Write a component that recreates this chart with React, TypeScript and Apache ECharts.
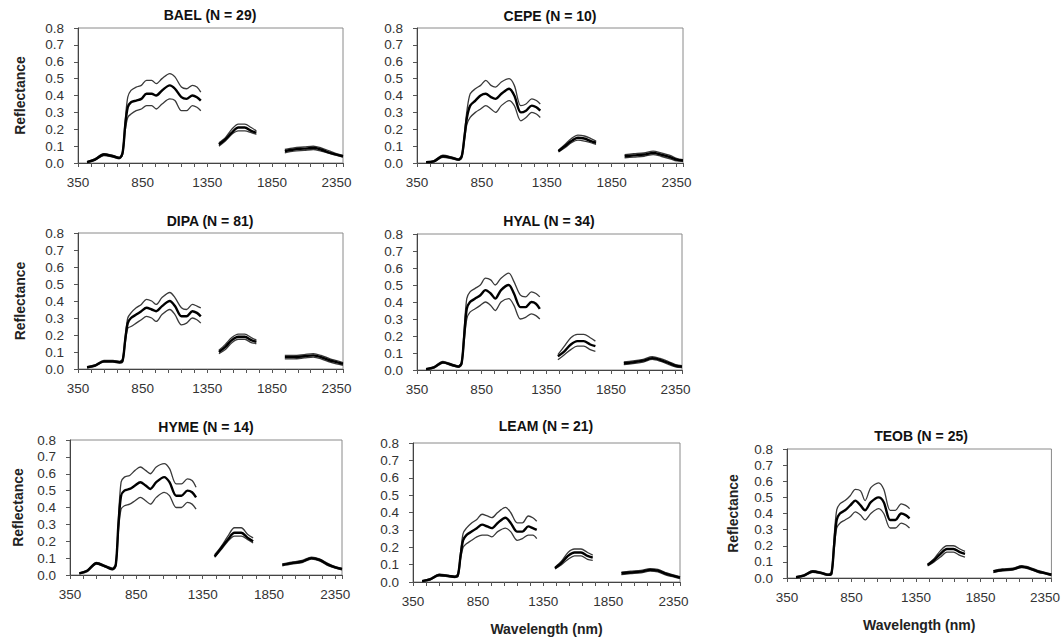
import { useEffect, useRef } from "react";
import * as echarts from "echarts";

// Wavelength grid (nm); null values mark the water-absorption gaps
const wavelengths = [
  420, 480, 550, 620, 670, 695, 715, 735, 760, 800, 840, 880, 920, 955, 1000, 1060, 1100, 1150, 1190, 1235, 1270, 1300,
  1370,
  1440, 1490, 1540, 1590, 1640, 1690, 1730,
  1840,
  1950, 2020, 2100, 2170, 2230, 2300, 2350, 2400,
];

const titles = ["BAEL (N = 29)", "CEPE (N = 10)", "DIPA (N = 81)", "HYAL (N = 34)", "HYME (N = 14)", "LEAM (N = 21)", "TEOB (N = 25)"];

const baelMean = [0.005, 0.02, 0.05, 0.04, 0.03, 0.06, 0.22, 0.33, 0.36, 0.37, 0.38, 0.41, 0.41, 0.40, 0.43, 0.46, 0.44, 0.39, 0.38, 0.40, 0.39, 0.37, null, 0.11, 0.14, 0.18, 0.21, 0.21, 0.19, 0.18, null, 0.07, 0.08, 0.085, 0.09, 0.08, 0.06, 0.05, 0.04];
const baelUpper = [0.008, 0.024, 0.056, 0.045, 0.034, 0.07, 0.25, 0.39, 0.43, 0.45, 0.46, 0.49, 0.49, 0.47, 0.50, 0.53, 0.51, 0.45, 0.44, 0.46, 0.45, 0.42, null, 0.12, 0.15, 0.20, 0.23, 0.23, 0.21, 0.19, null, 0.08, 0.09, 0.095, 0.10, 0.09, 0.07, 0.055, 0.045];
const baelLower = [0.002, 0.016, 0.044, 0.035, 0.026, 0.05, 0.19, 0.27, 0.29, 0.31, 0.32, 0.34, 0.34, 0.32, 0.35, 0.38, 0.37, 0.31, 0.31, 0.34, 0.33, 0.31, null, 0.10, 0.13, 0.17, 0.19, 0.19, 0.18, 0.17, null, 0.06, 0.07, 0.075, 0.08, 0.07, 0.055, 0.045, 0.035];

const cepeMean = [0.005, 0.01, 0.04, 0.03, 0.02, 0.04, 0.15, 0.27, 0.34, 0.37, 0.40, 0.41, 0.39, 0.38, 0.41, 0.44, 0.40, 0.30, 0.31, 0.34, 0.33, 0.31, null, 0.07, 0.10, 0.13, 0.15, 0.145, 0.13, 0.12, null, 0.04, 0.045, 0.05, 0.06, 0.05, 0.035, 0.02, 0.015];
const cepeUpper = [0.008, 0.014, 0.046, 0.035, 0.024, 0.05, 0.17, 0.31, 0.41, 0.44, 0.46, 0.49, 0.46, 0.45, 0.48, 0.50, 0.46, 0.34, 0.35, 0.38, 0.37, 0.35, null, 0.075, 0.11, 0.145, 0.165, 0.16, 0.145, 0.13, null, 0.05, 0.055, 0.06, 0.07, 0.06, 0.045, 0.028, 0.02];
const cepeLower = [0.002, 0.006, 0.034, 0.025, 0.016, 0.03, 0.13, 0.23, 0.27, 0.30, 0.32, 0.34, 0.32, 0.30, 0.34, 0.37, 0.34, 0.25, 0.27, 0.30, 0.29, 0.27, null, 0.065, 0.09, 0.12, 0.135, 0.13, 0.12, 0.11, null, 0.03, 0.035, 0.04, 0.05, 0.04, 0.025, 0.012, 0.01];

const dipaMean = [0.01, 0.02, 0.045, 0.045, 0.04, 0.05, 0.17, 0.27, 0.30, 0.32, 0.34, 0.36, 0.35, 0.34, 0.37, 0.40, 0.37, 0.31, 0.31, 0.34, 0.33, 0.31, null, 0.10, 0.13, 0.17, 0.19, 0.19, 0.17, 0.16, null, 0.07, 0.07, 0.075, 0.08, 0.07, 0.05, 0.04, 0.03];
const dipaUpper = [0.013, 0.024, 0.05, 0.05, 0.045, 0.06, 0.19, 0.30, 0.33, 0.36, 0.38, 0.41, 0.40, 0.38, 0.42, 0.45, 0.42, 0.36, 0.35, 0.38, 0.37, 0.36, null, 0.11, 0.145, 0.185, 0.205, 0.205, 0.185, 0.17, null, 0.08, 0.08, 0.085, 0.09, 0.08, 0.06, 0.05, 0.038];
const dipaLower = [0.007, 0.016, 0.04, 0.04, 0.035, 0.04, 0.15, 0.24, 0.25, 0.27, 0.29, 0.31, 0.30, 0.28, 0.32, 0.35, 0.32, 0.26, 0.27, 0.30, 0.29, 0.27, null, 0.09, 0.115, 0.155, 0.175, 0.175, 0.155, 0.15, null, 0.06, 0.06, 0.065, 0.07, 0.06, 0.04, 0.03, 0.022];

const hyalMean = [0.005, 0.015, 0.045, 0.03, 0.02, 0.04, 0.20, 0.36, 0.40, 0.42, 0.44, 0.47, 0.45, 0.42, 0.47, 0.50, 0.45, 0.37, 0.37, 0.40, 0.39, 0.36, null, 0.08, 0.11, 0.15, 0.17, 0.17, 0.15, 0.14, null, 0.04, 0.045, 0.055, 0.07, 0.06, 0.04, 0.025, 0.02];
const hyalUpper = [0.008, 0.019, 0.05, 0.035, 0.024, 0.05, 0.24, 0.42, 0.46, 0.48, 0.50, 0.54, 0.53, 0.50, 0.54, 0.57, 0.52, 0.44, 0.43, 0.46, 0.45, 0.43, null, 0.09, 0.14, 0.19, 0.21, 0.21, 0.19, 0.17, null, 0.048, 0.053, 0.063, 0.078, 0.068, 0.048, 0.032, 0.026];
const hyalLower = [0.002, 0.011, 0.04, 0.025, 0.016, 0.03, 0.17, 0.30, 0.34, 0.36, 0.38, 0.40, 0.38, 0.35, 0.40, 0.42, 0.38, 0.30, 0.31, 0.33, 0.32, 0.30, null, 0.06, 0.09, 0.12, 0.14, 0.14, 0.12, 0.11, null, 0.032, 0.037, 0.047, 0.062, 0.052, 0.032, 0.018, 0.014];

const hymeMean = [0.01, 0.025, 0.07, 0.05, 0.035, 0.06, 0.30, 0.47, 0.50, 0.51, 0.53, 0.55, 0.53, 0.51, 0.55, 0.58, 0.55, 0.47, 0.47, 0.50, 0.49, 0.46, null, 0.11, 0.16, 0.21, 0.25, 0.25, 0.22, 0.20, null, 0.06, 0.07, 0.08, 0.10, 0.09, 0.06, 0.045, 0.035];
const hymeUpper = [0.013, 0.03, 0.075, 0.055, 0.04, 0.07, 0.33, 0.55, 0.58, 0.59, 0.62, 0.64, 0.62, 0.60, 0.64, 0.66, 0.63, 0.54, 0.54, 0.57, 0.56, 0.52, null, 0.12, 0.17, 0.23, 0.28, 0.28, 0.24, 0.22, null, 0.066, 0.076, 0.086, 0.106, 0.096, 0.066, 0.05, 0.04];
const hymeLower = [0.007, 0.02, 0.065, 0.045, 0.03, 0.05, 0.26, 0.39, 0.41, 0.42, 0.44, 0.46, 0.44, 0.42, 0.46, 0.49, 0.47, 0.40, 0.40, 0.43, 0.42, 0.39, null, 0.105, 0.15, 0.20, 0.23, 0.23, 0.21, 0.19, null, 0.054, 0.064, 0.074, 0.094, 0.084, 0.054, 0.04, 0.03];

const leamMean = [0.005, 0.015, 0.04, 0.035, 0.03, 0.04, 0.15, 0.24, 0.27, 0.29, 0.31, 0.33, 0.32, 0.31, 0.34, 0.37, 0.34, 0.29, 0.29, 0.32, 0.31, 0.30, null, 0.08, 0.11, 0.15, 0.17, 0.17, 0.15, 0.14, null, 0.05, 0.055, 0.06, 0.07, 0.065, 0.045, 0.035, 0.025];
const leamUpper = [0.008, 0.019, 0.045, 0.04, 0.034, 0.05, 0.17, 0.28, 0.31, 0.34, 0.36, 0.39, 0.38, 0.37, 0.40, 0.43, 0.40, 0.34, 0.34, 0.38, 0.37, 0.35, null, 0.085, 0.12, 0.17, 0.19, 0.19, 0.17, 0.155, null, 0.057, 0.062, 0.067, 0.077, 0.072, 0.052, 0.041, 0.031];
const leamLower = [0.002, 0.011, 0.035, 0.03, 0.026, 0.03, 0.13, 0.20, 0.22, 0.24, 0.26, 0.27, 0.27, 0.26, 0.29, 0.31, 0.29, 0.24, 0.25, 0.27, 0.27, 0.25, null, 0.075, 0.10, 0.13, 0.15, 0.15, 0.13, 0.125, null, 0.043, 0.048, 0.053, 0.063, 0.058, 0.038, 0.029, 0.019];

const teobMean = [0.005, 0.015, 0.04, 0.03, 0.02, 0.03, 0.20, 0.36, 0.40, 0.42, 0.45, 0.48, 0.45, 0.42, 0.47, 0.50, 0.47, 0.36, 0.36, 0.40, 0.39, 0.37, null, 0.08, 0.11, 0.15, 0.18, 0.18, 0.16, 0.15, null, 0.04, 0.05, 0.055, 0.07, 0.06, 0.04, 0.03, 0.02];
const teobUpper = [0.008, 0.019, 0.045, 0.035, 0.024, 0.04, 0.25, 0.42, 0.46, 0.48, 0.51, 0.55, 0.54, 0.48, 0.56, 0.59, 0.55, 0.42, 0.42, 0.46, 0.45, 0.43, null, 0.085, 0.12, 0.17, 0.20, 0.20, 0.18, 0.165, null, 0.046, 0.056, 0.061, 0.076, 0.066, 0.046, 0.035, 0.025];
const teobLower = [0.002, 0.011, 0.035, 0.025, 0.016, 0.02, 0.17, 0.31, 0.34, 0.36, 0.38, 0.41, 0.39, 0.36, 0.40, 0.43, 0.40, 0.31, 0.31, 0.34, 0.33, 0.31, null, 0.075, 0.10, 0.13, 0.16, 0.16, 0.14, 0.13, null, 0.034, 0.044, 0.049, 0.064, 0.054, 0.034, 0.025, 0.015];

const panelData = [
  [baelMean, baelUpper, baelLower],
  [cepeMean, cepeUpper, cepeLower],
  [dipaMean, dipaUpper, dipaLower],
  [hyalMean, hyalUpper, hyalLower],
  [hymeMean, hymeUpper, hymeLower],
  [leamMean, leamUpper, leamLower],
  [teobMean, teobUpper, teobLower],
];

const yTickValues = [0, 0.1, 0.2, 0.3, 0.4, 0.5, 0.6, 0.7, 0.8];
const xLabelValues = [350, 850, 1350, 1850, 2350];

// layout (pixels)
const layout = [
  { left: 78, top: 28, width: 265, height: 135, titleX: 210, titleY: 8, yGap: 51, xName: false },
  { left: 417, top: 28, width: 266, height: 135, titleX: 550, titleY: 9, yGap: 0, xName: false },
  { left: 78, top: 233, width: 265, height: 136, titleX: 210, titleY: 214, yGap: 51, xName: false },
  { left: 417, top: 234, width: 265, height: 136, titleX: 549, titleY: 214, yGap: 0, xName: false },
  { left: 70, top: 440, width: 272, height: 135, titleX: 206, titleY: 420, yGap: 45, xName: false },
  { left: 413, top: 443, width: 267, height: 139, titleX: 546, titleY: 419, yGap: 0, xName: true },
  { left: 787, top: 449, width: 266, height: 129, titleX: 921, titleY: 429, yGap: 47, xName: true },
];

const FONT = "'Liberation Sans', Arial, sans-serif";

export default function App() {
  const ref = useRef<HTMLDivElement>(null);
  useEffect(() => {
    const chart = echarts.init(ref.current!, undefined, { renderer: "svg" });
    const grids: any[] = [];
    const xAxes: any[] = [];
    const yAxes: any[] = [];
    const titleArr: any[] = [];
    const series: any[] = [];
    layout.forEach((l, i) => {
      grids.push({
        left: l.left, top: l.top, width: l.width, height: l.height,
        show: true, borderColor: "#8a8a8a", borderWidth: 1, backgroundColor: "transparent",
      });
      titleArr.push({
        text: titles[i], left: l.titleX, top: l.titleY, textAlign: "center", padding: 0,
        textStyle: { fontFamily: FONT, fontSize: 14, fontWeight: "bold", color: "#111" },
      });
      xAxes.push({
        gridIndex: i, type: "value", min: 350, max: 2400, interval: 100,
        name: l.xName ? "Wavelength (nm)" : "", nameLocation: "middle", nameGap: 40,
        nameTextStyle: { fontFamily: FONT, fontSize: 14, fontWeight: "bold", color: "#222" },
        axisLine: { show: true, onZero: false, lineStyle: { color: "#444", width: 1 } },
        axisTick: { show: true, length: 4, lineStyle: { color: "#555" } },
        axisLabel: {
          fontFamily: FONT, fontSize: 13.5, color: "#333", margin: 12,
          formatter: (v: number) => (xLabelValues.includes(Math.round(v)) ? String(Math.round(v)) : ""),
        },
        splitLine: { show: false },
      });
      yAxes.push({
        gridIndex: i, type: "value", min: 0, max: 0.8, interval: 0.1,
        name: l.yGap ? "Reflectance" : "", nameLocation: "middle", nameGap: l.yGap,
        nameTextStyle: { fontFamily: FONT, fontSize: 14, fontWeight: "bold", color: "#222" },
        axisLine: { show: true, lineStyle: { color: "#444", width: 1 } },
        axisTick: { show: true, length: 4, lineStyle: { color: "#555" } },
        axisLabel: {
          fontFamily: FONT, fontSize: 13.5, color: "#333", margin: 14,
          formatter: (v: number) => {
            const t = yTickValues.find((y) => Math.abs(y - v) < 1e-6);
            return t === undefined ? "" : t.toFixed(1);
          },
        },
        splitLine: { show: false },
      });
      const [mean, upper, lower] = panelData[i];
      const mk = (arr: (number | null)[], w: number, c: string, z: number) => ({
        type: "line", xAxisIndex: i, yAxisIndex: i,
        data: wavelengths.map((x, j) => [x, arr[j] === null ? "-" : arr[j]]),
        showSymbol: false, smooth: 0.3, connectNulls: false, z,
        lineStyle: { color: c, width: w }, silent: true,
      });
      series.push(mk(upper, 1.3, "#3a3a3a", 2));
      series.push(mk(lower, 1.3, "#3a3a3a", 2));
      series.push(mk(mean, 2.4, "#000", 3));
    });
    chart.setOption({
      animation: false,
      backgroundColor: "#fff",
      title: titleArr,
      grid: grids,
      xAxis: xAxes,
      yAxis: yAxes,
      series,
    });
    return () => chart.dispose();
  }, []);
  return (
    <div
      ref={ref}
      style={{ position: "fixed", left: 0, top: 0, width: 1063, height: 639, background: "#fff" }}
    />
  );
}
